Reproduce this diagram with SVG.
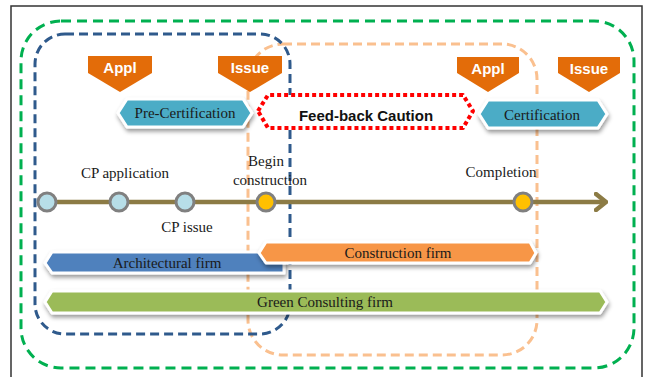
<svg xmlns="http://www.w3.org/2000/svg" width="649" height="377" viewBox="0 0 649 377">
<defs>
<filter id="sh" x="-10%" y="-30%" width="120%" height="180%">
<feDropShadow dx="1" dy="3" stdDeviation="2" flood-color="#000" flood-opacity="0.4"/>
</filter>
<marker id="chev" viewBox="0 0 14 20" refX="12" refY="10" markerWidth="14" markerHeight="20" markerUnits="userSpaceOnUse" orient="auto">
<path d="M2,2 L12,10 L2,18" fill="none" stroke="#8C7B45" stroke-width="4.5" stroke-linecap="round" stroke-linejoin="round"/>
</marker>
</defs>
<style>
.frame{fill:none;stroke:#333;stroke-width:1.5}
.zone{fill:none;stroke-width:3}
.badge{fill:#E36C09}
.btxt{font-family:"Liberation Sans",Arial,sans-serif;font-weight:bold;font-size:15px;fill:#fff;text-anchor:middle}
.bar{stroke:#fff;stroke-width:3;stroke-linejoin:round;filter:url(#sh)}
.lbl{font-family:"Liberation Serif","Times New Roman",serif;font-size:15px;fill:#1a1a1a;text-anchor:middle}
.pt{stroke:#808080;stroke-width:3}
.lb{fill:#B7DEE8}
.gd{fill:#FFC000}
</style>
<rect width="649" height="377" fill="#fff"/>
<path class="frame" d="M11,380 V6 H642 V380"/>

<g id="zones">
<rect class="zone" x="21" y="21" width="613" height="347" rx="40" stroke="#00B050" stroke-dasharray="10 6"/>
<rect class="zone" x="248" y="44" width="289" height="311" rx="35" stroke="#FAC08F" stroke-dasharray="9 5"/>
<rect class="zone" x="35" y="34" width="255" height="300" rx="30" stroke="#2F5A8C" stroke-dasharray="9 5"/>
</g>

<g id="connectors">
<line x1="47" y1="202" x2="606" y2="202" stroke="#8C7B45" stroke-width="4.5" marker-end="url(#chev)"/>
</g>

<g id="appl1"><path class="badge" d="M88,56 H152 V73 L120,92 L88,73 Z"/><text class="btxt" x="120" y="73">Appl</text></g>
<g id="issue1"><path class="badge" d="M218,56 H282 V73 L250,92 L218,73 Z"/><text class="btxt" x="250" y="73">Issue</text></g>
<g id="appl2"><path class="badge" d="M457,57 H519 V73 L488,92 L457,73 Z"/><text class="btxt" x="488" y="74">Appl</text></g>
<g id="issue2"><path class="badge" d="M558,57 H620 V73 L589,92 L558,73 Z"/><text class="btxt" x="589" y="74">Issue</text></g>

<g id="precert"><path class="bar" fill="#4BACC6" d="M118,113 L127,99 H243 L252,113 L243,127 H127 Z"/><text class="lbl" x="185" y="118">Pre-Certification</text></g>
<g id="feedback"><path d="M258,111 L268,95 H463 L473,111 L463,128 H268 Z" fill="#fff" stroke="#FF0000" stroke-width="4" stroke-dasharray="4 3" stroke-linejoin="round"/><text x="366" y="121" font-family="'Liberation Sans',Arial,sans-serif" font-weight="bold" font-size="15" fill="#111" text-anchor="middle">Feed-back Caution</text></g>
<g id="cert"><path class="bar" fill="#4BACC6" d="M479,114 L488,100 H598 L607,114 L598,128 H488 Z"/><text class="lbl" x="542" y="120">Certification</text></g>

<g id="cpapp"><circle class="pt lb" cx="47" cy="202" r="9"/><circle class="pt lb" cx="119" cy="202" r="9"/><text class="lbl" x="125" y="178">CP application</text></g>
<g id="cpissue"><circle class="pt lb" cx="185" cy="202" r="9"/><text class="lbl" x="187" y="232">CP issue</text></g>
<g id="begin"><circle class="pt gd" cx="266" cy="202" r="9"/><text class="lbl" x="266" y="166">Begin</text><text class="lbl" x="270" y="185">construction</text></g>
<g id="completion"><circle class="pt gd" cx="523" cy="202" r="9"/><text class="lbl" x="501" y="177">Completion</text></g>

<g id="arch"><path class="bar" fill="#4F81BD" d="M45,263 L52,252 H284 L284,273 H52 Z"/><text class="lbl" x="167" y="268">Architectural firm</text></g>
<g id="constr"><path class="bar" fill="#F79646" d="M259,253 L266,242 H530 L536,253 L530,263 H266 Z"/><text class="lbl" x="398" y="258">Construction firm</text></g>
<g id="green"><path class="bar" fill="#9BBB59" d="M45,302 L52,291 H600 L607,302 L600,313 H52 Z"/><text class="lbl" x="325" y="307">Green Consulting firm</text></g>
</svg>
